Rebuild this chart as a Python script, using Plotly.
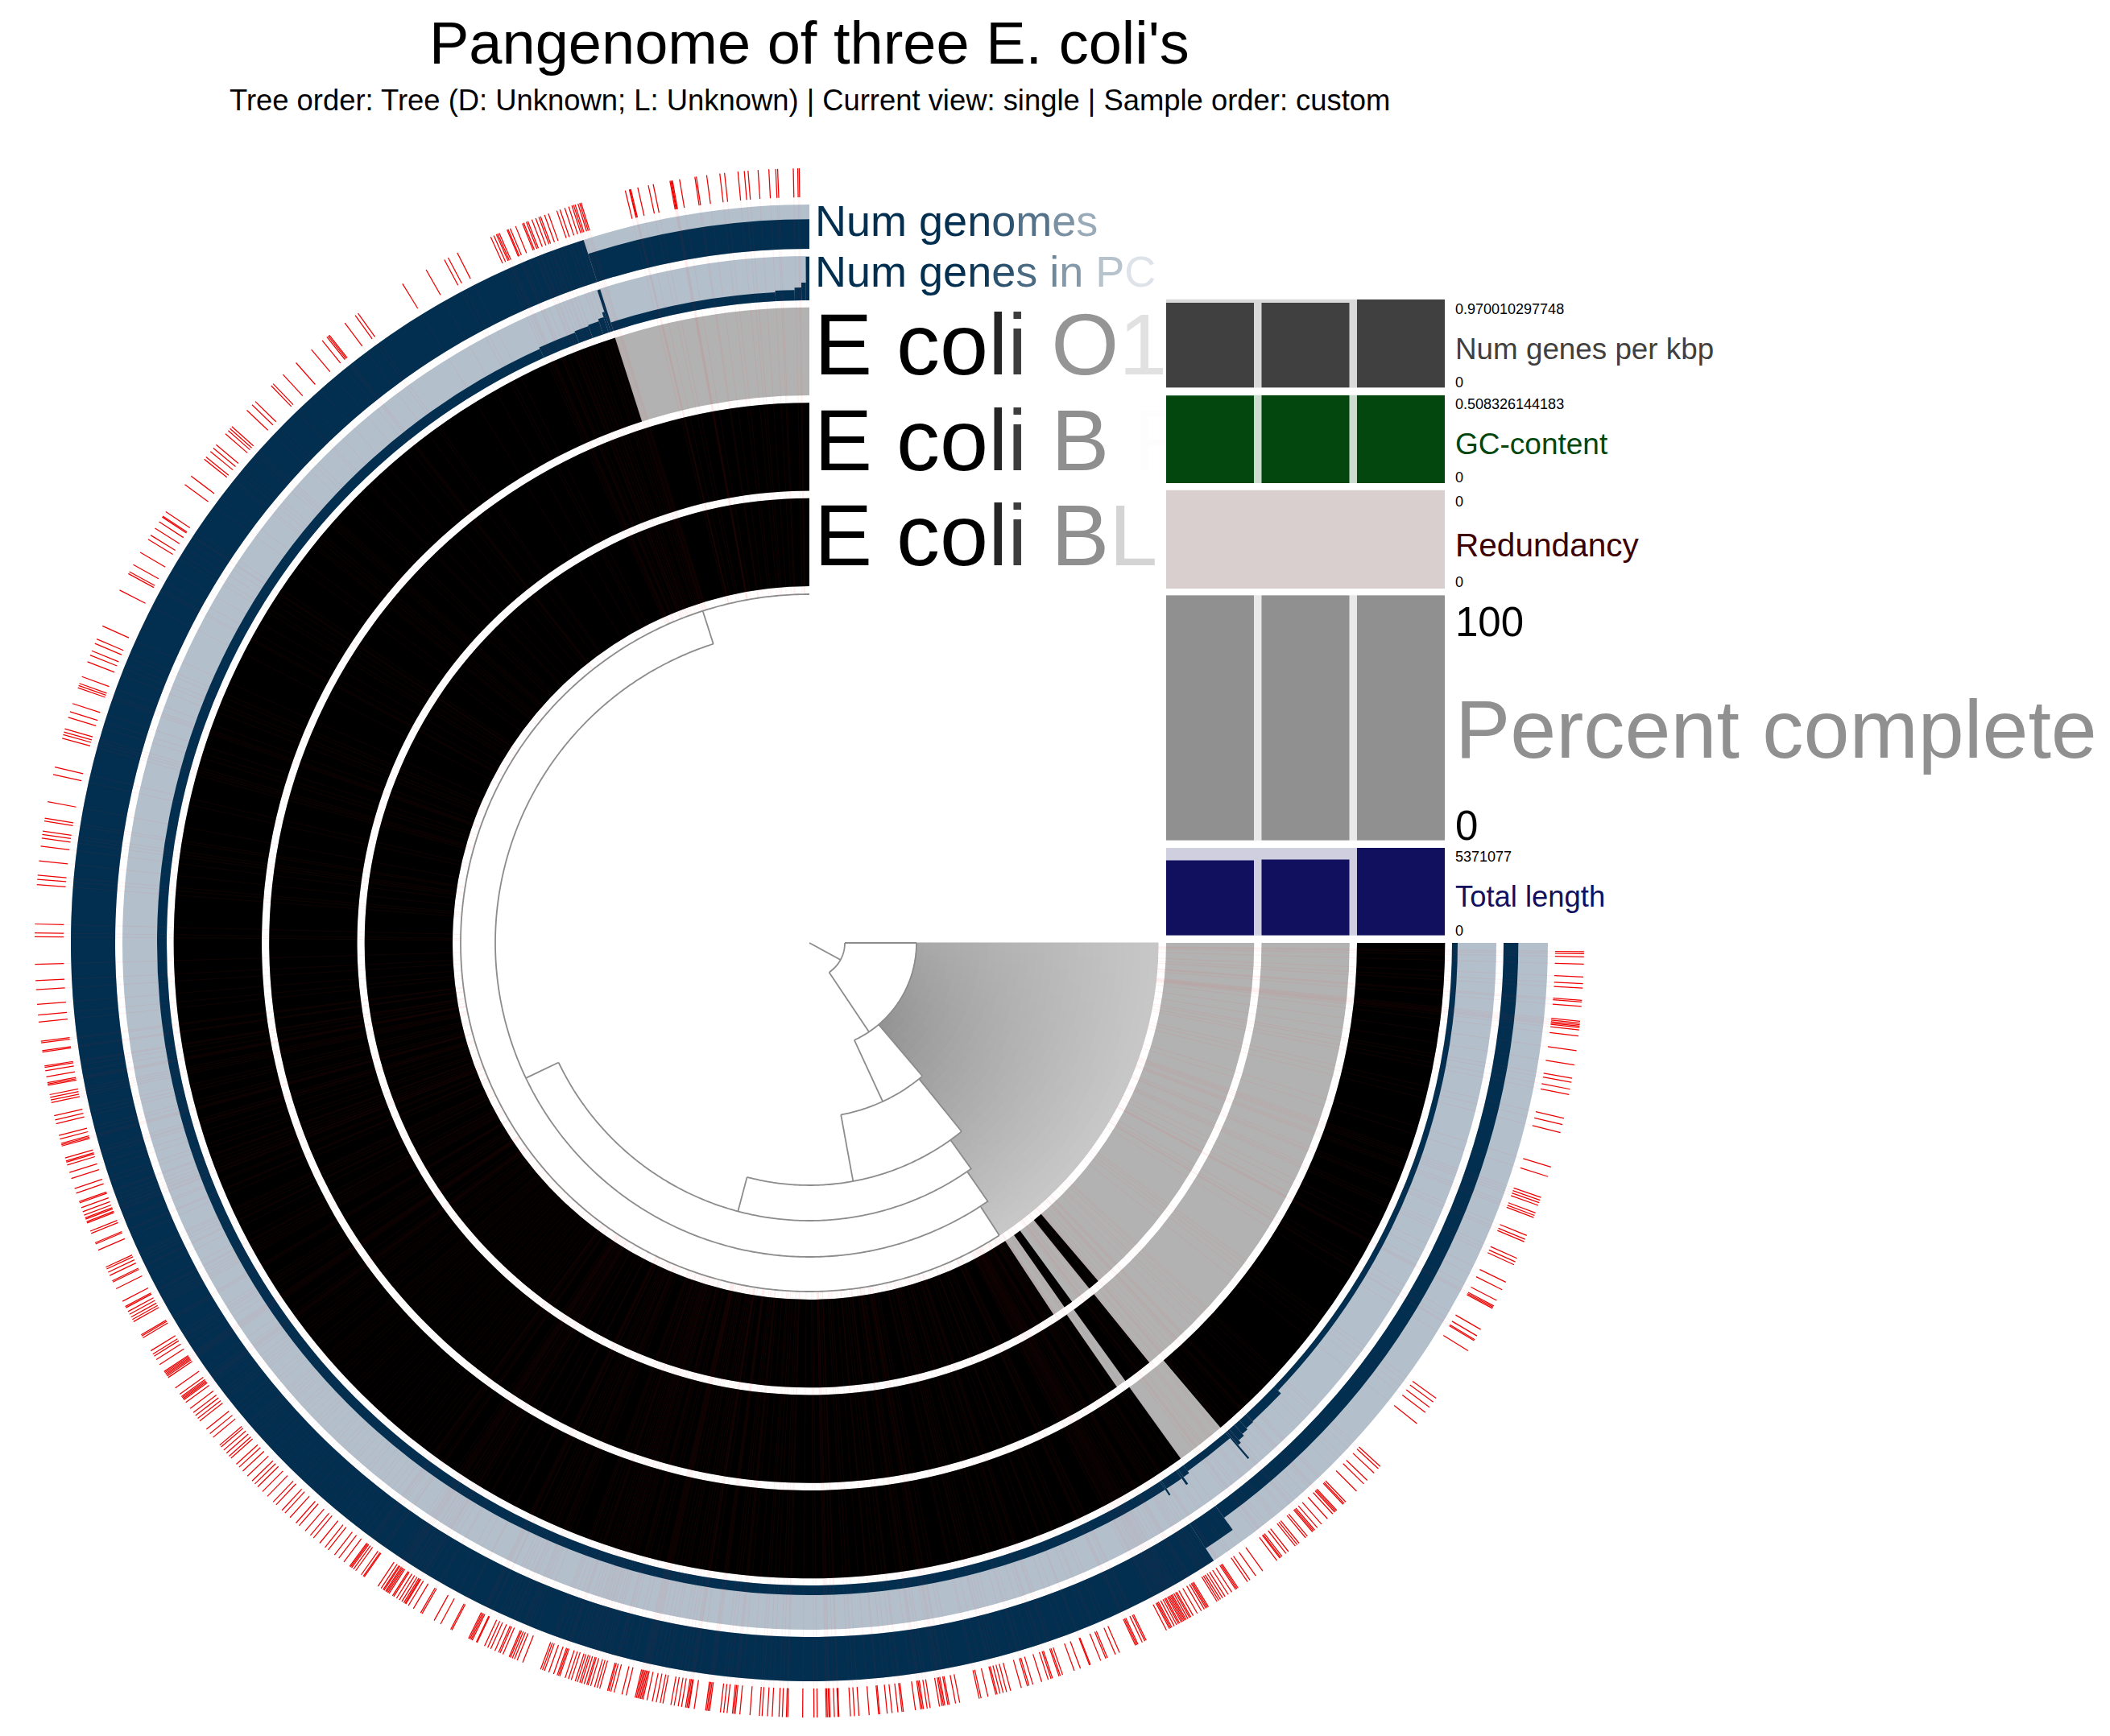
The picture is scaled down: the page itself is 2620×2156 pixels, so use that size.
import plotly.graph_objects as go

# the page puts the figure 8 px in from its corner
PAGE_W, PAGE_H = 2620, 2156
INSET = 8
W, H = PAGE_W - 2 * INSET, PAGE_H - 2 * INSET
CX, CY = 1005, 1171
R = 970


def px(x):
    return (x - INSET) / W


def py(y):
    return 1 - (y - INSET) / H


# ---------- data ----------
samples = ["E coli BL21", "E coli B REL606", "E coli O157 H7"]
ring_labels = ["Num genomes", "Num genes in PC", "E coli O157 H7", "E coli B REL606", "E coli BL21"]

# present segments per genome ring: start angle, stop angle (clockwise from east)
bl21_start = [49.5, 53.8, 56.7]
bl21_stop = [51.0, 55.0, 270.0]
rel606_start = [51.0, 55.3]
rel606_stop = [54.2, 270.0]
o157_start = [0.0, 54.25]
o157_stop = [49.7, 252.2]

# number of genomes per stretch
genomes_start = [0.0, 54.2, 56.8, 252.2]
genomes_stop = [54.2, 56.8, 252.2, 270.0]
genomes_value = [1, 2, 3, 2]

# genes in protein cluster per stretch
genes_start = [0, 43.7, 47.2, 48, 48.6, 49.2, 49.5, 49.65, 54.4, 55.0, 55.2, 56.8, 56.95, 245.6, 249, 250.3, 251.3, 251.8, 252, 252.25, 267, 268.7, 269.3, 269.7]
genes_stop = [43.7, 47.2, 48, 48.6, 49.2, 49.5, 49.65, 54.4, 55.0, 55.2, 56.8, 56.95, 245.6, 249, 250.3, 251.3, 251.8, 252, 252.25, 267, 268.7, 269.3, 269.7, 270]
genes_value = [7, 12, 13, 15, 18, 22, 43, 9, 12, 22, 12, 21, 12, 14, 15.5, 17, 20, 26, 54, 11, 13, 16, 22, 54]

# red bins: angle clockwise from east
bins_se = [.65,.8,1.03,1.57,2.52,3.02,3.35,4.25,4.37,4.71,5.81,5.95,6.07,6.17,6.27,6.46,6.91,8.0,9.07,10.07,10.37,10.89,11.29,13.09,13.57,14.18,16.82,17.56,19.19,19.4,19.6,19.81,20.4,20.6,20.77,22.19,22.5,22.69,24.03,24.32,24.55,25.98,26.6,27.49,27.95,28.05,28.15,29.94,30.49,30.81,30.9,31.77,36.01,36.36,36.83,37.33,38.35,42.53,42.75,43.2,43.94,44.3,45.06,46.19,46.35,46.45,47.1,47.2,47.3,47.5,48.03,48.62,49.03,49.29,49.4,49.5,50.0,50.17,50.8,50.97,51.15,51.8,52.03,52.4,52.52,52.6,52.88,54.18,54.81,55.34,55.56,56.4,56.5,56.6,56.96,57.27,57.55,57.76,57.95,58.1,58.25,59.0,59.1,59.2,59.35,59.6,59.95,60.3,60.5,60.6,60.75,60.9,61,61.1,61.2,61.3,61.45,61.55,61.7,61.9,62.1,62.2,62.3,62.55,64.23,64.34,64.55,64.9,65.0,65.1,66.4,66.73,67.37,67.5,67.91,68.73,68.8,69.52,70,70.92,71.1,71.2,71.71,71.82,72.04,72.55,73.23,73.53,73.65,74.12,74.94,75.25,75.51,75.75,75.97,76.07,76.67,77.19,77.33,78.81,79.12,79.6,79.7,79.93,80.03,80.13,80.33,81.03,81.25,81.53,81.63,81.73,82.13,83.03,83.13,83.43,83.87,84.23,84.79,84.87,85.57,86.33,86.66,86.96,87.81,87.88,88.15,88.47,88.55,88.67,88.75,89.42,89.66]
# degrees below west
bins_sw = [1.59,2.8,3.46,4.56,5.35,5.87,7.3,7.42,8.0,8.1,9.15,9.25,9.51,9.96,10.4,10.5,10.6,11.3,11.5,11.7,11.9,12.89,13.21,13.5,14.39,14.67,15.0,15.1,15.2,16.12,16.35,16.45,16.66,17.24,17.71,18.49,18.85,19.52,19.62,19.99,20.31,20.58,20.8,20.9,21.1,21.2,21.85,22.03,22.78,22.88,23.37,24.75,24.9,25.16,25.43,25.87,25.97,26.52,27.56,28.0,28.1,28.42,28.65,28.89,29.09,29.27,30.4,30.5,30.65,31.78,32.07,32.25,32.55,32.99,33.6,33.7,33.8,33.9,34.0,34.14,35.07,35.64,35.85,35.95,36.05,36.15,36.4,36.94,37.33,37.6,37.87,38.11,38.9,39.31,39.67,40.43,40.6,40.9,41.2,41.5,41.7,42.3,42.6,43.0,43.5,44.0,44.3,44.6,45.1,45.6,46.2,46.5,47.1,47.4,47.9,48.5,48.8,49.4,49.9,50.2,50.8,51.3,51.6,52.2,52.6,53.07,53.6,53.69,53.78,53.95,54.15,54.66,54.85,54.93,56.16,56.44,56.62,56.7,56.84,56.93,57.03,57.14,57.45,57.55,57.8,58.04,58.26,58.43,58.53,58.6,58.83,59.26,59.88,60.0,61.03,61.57,62.42,62.52,63.9,64.0,64.1,64.2,64.54,64.6,65.21,65.47,65.71,66.05,66.35,66.47,66.7,67.2,67.3,67.45,67.62,67.84,68.28,69.7,69.85,70.0,70.34,70.72,71.0,71.1,71.2,71.62,71.88,72.1,72.41,72.57,72.76,72.9,73.1,73.3,73.4,73.6,73.9,74.1,74.3,74.9,75.0,75.15,75.4,76.0,76.32,77.0,77.1,77.2,77.3,77.4,77.5,77.6,77.9,78.3,78.6,78.9,79.1,79.7,79.95,80.25,80.5,80.8,80.9,81.0,81.05,81.45,82.3,82.4,82.5,82.6,83.4,83.65,83.9,84.3,84.4,84.5,84.85,85.6,86.3,86.5,86.9,87.25,87.75,88.0,88.3,88.4,89.5]
# degrees above west
bins_nw = [.46,.73,1.4,4.31,4.71,5.01,6.08,7.17,7.77,8.04,8.3,9.05,9.27,10.5,12.56,13.12,15.32,15.6,15.8,16.04,16.93,17.37,18.0,19.23,19.4,19.57,20.11,21.28,21.81,22.15,22.74,23.1,24.15,27.09,28.47,28.63,29.23,30.27,31.4,31.76,32.37,32.93,33.35,33.43,33.83,36.28,37.06,38.64,38.85,39.37,39.7,40.03,41.09,41.4,41.6,41.8,43.44,44.0,44.34,46.0,46.2,47.2,48.5]
# degrees west of north
bins_n = [.75,.86,1.19,2.35,2.49,3.0,3.8,4.54,4.82,5.29,6.29,6.64,7.62,8.39,8.5,9.65,10.18,10.25,10.3,10.37,11.63,12.0,12.8,13.33,13.4,13.44,13.75,17.14,17.25,17.38,17.6,17.72,17.85,18.1,18.41,18.78,19.03,19.69,19.99,20.31,20.44,20.69,20.99,21.31,21.43,21.64,21.74,22.29,22.72,22.89,22.97,23.6,23.73,23.83,24.04,24.29,27.03,27.79,28.11,29.65,31.68,35.63,35.89,36.84,38.3,38.4,38.52,38.96,40.0]

# dendrogram: arcs and radial branches
arc_depth = [44, 133, 217, 301, 345, 390, 433]
arc_from = [0, 0, 49.9, 51.1, 54.4, 55.4, 57]
arc_to = [56.2, 65.2, 79.6, 104.9, 154.5, 252.2, 270]
branch_angle = [28.6, 0, 56.2, 65.2, 79.6, 104.9, 154.5, 252.2, 49.7, 51.1, 54.4, 55.4, 57]
branch_from = [0, 44, 44, 133, 217, 301, 345, 390, 133, 217, 301, 346, 391]
branch_to = [44, 133, 133, 217, 301, 345, 390, 433, 217, 301, 346, 391, 433]

# leaf fans
fan_from = [0, 49.7, 51.1, 54.4, 55.4]
fan_to = [49.7, 51.1, 54.4, 55.4, 57]
fan_depth = [133, 217, 301, 346, 391]

# sample layers
genes_per_kbp = [0.933, 0.933, 0.970010297748]
gc_content = [0.506, 0.508, 0.508326144183]
redundancy = [0, 0, 0]
percent_complete = [100, 100, 100]
total_length = [4606000, 4655000, 5371077]

# ---------- styles ----------
NAVY, PALE = "#022f50", "#b3c0cc"
GREY = "#b3b2b2"
TREE = "#8c8c8c"
FONT = "Liberation Sans"

bin_angles = bins_se + [180 - b for b in bins_sw] + [180 + b for b in bins_nw] + [270 - b for b in bins_n]


def segs(starts, stops, values, base, scale, color):
    return go.Barpolar(
        theta=[(a + b) / 2 for a, b in zip(starts, stops)],
        width=[b - a for a, b in zip(starts, stops)],
        r=[v * scale for v in values],
        base=[base] * len(starts),
        marker=dict(color=color, line=dict(width=0)),
        hoverinfo="skip", showlegend=False,
    )


fig = go.Figure()

# fan with shaded cells
th, wd, rr, bs, cc = [], [], [], [], []
for a0, a1, d in zip(fan_from, fan_to, fan_depth):
    a = a0
    while a < a1 - 1e-6:
        b = min(a + 3, a1)
        r0 = d
        while r0 < 433:
            r1 = min(r0 + 10, 433)
            g = 200 - (433 - (r0 + r1) / 2) / 298 * (32 + 22 * ((a + b) / 2) / 50)
            g = int(round(g))
            th.append((a + b) / 2); wd.append(b - a); rr.append(r1 - r0); bs.append(r0)
            cc.append(f"rgb({g},{g},{g})")
            r0 = r1
        a = b
fig.add_trace(go.Barpolar(theta=th, width=wd, r=rr, base=bs,
                          marker=dict(color=cc, line=dict(color=cc, width=1)),
                          hoverinfo="skip", showlegend=False))

# genome rings
for inner, (st, sp) in zip((443, 561.5, 680), ((bl21_start, bl21_stop), (rel606_start, rel606_stop), (o157_start, o157_stop))):
    fig.add_trace(segs([0], [270], [1], inner, 109.3, GREY))
    fig.add_trace(segs(st, sp, [1] * len(st), inner, 109.3, "#000000"))

# genes in PC ring
fig.add_trace(segs([0], [270], [1], 798, 55, PALE))
fig.add_trace(segs(genes_start, genes_stop, genes_value, 798, 1, NAVY))

# genomes ring
fig.add_trace(segs([0], [270], [1], 862, 55, PALE))
fig.add_trace(segs(genomes_start, genomes_stop, genomes_value, 862, 55 / 3, NAVY))

# translucent bin lines through rings
pr, pt, tr, tt = [], [], [], []
for a in bin_angles:
    pr += [433, 926, None]; pt += [a, a, None]
    tr += [926, 962, None]; tt += [a, a, None]
fig.add_trace(go.Scatterpolar(r=pr, theta=pt, mode="lines", line=dict(color="rgba(255,40,40,0.07)", width=1),
                              hoverinfo="skip", showlegend=False))
fig.add_trace(go.Scatterpolar(r=tr, theta=tt, mode="lines", line=dict(color="#ee0000", width=1.25),
                              hoverinfo="skip", showlegend=False))

# tree
tr_r, tr_t = [], []
for d, a0, a1 in zip(arc_depth, arc_from, arc_to):
    n = max(int((a1 - a0) * 2), 2)
    tr_r += [d] * (n + 1) + [None]
    tr_t += [a0 + (a1 - a0) * i / n for i in range(n + 1)] + [None]
for a, r0, r1 in zip(branch_angle, branch_from, branch_to):
    tr_r += [r0, r1, None]; tr_t += [a, a, None]
fig.add_trace(go.Scatterpolar(r=tr_r, theta=tr_t, mode="lines", line=dict(color=TREE, width=1.8),
                              hoverinfo="skip", showlegend=False))

# sample layers as bars
layers = [
    (genes_per_kbp, 371.8, 481.5, 0.970010297748, "#404040", "#d9d9d9"),
    (gc_content, 490.8, 600, 0.508326144183, "#03470e", "#ccdccf"),
    (redundancy, 608.8, 731, 1, "#3d0000", "#d9cfcf"),
    (percent_complete, 739.3, 1043.8, 100, "#909090", "#e9e9e9"),
    (total_length, 1053, 1161.7, 5371077, "#10105f", "#cfcfe0"),
]
layout_axes, shapes = {}, []
for i, (vals, top, bot, mx, dark, light) in enumerate(layers, start=1):
    sfx = "" if i == 1 else str(i)
    fig.add_trace(go.Bar(x=samples, y=vals, width=0.92, marker=dict(color=dark, line=dict(width=0)),
                         xaxis=f"x{sfx}", yaxis=f"y{sfx}", hoverinfo="skip", showlegend=False))
    layout_axes[f"xaxis{sfx}"] = dict(domain=[px(1448), px(1794)], range=[-0.46, 2.46], type="category",
                                      categoryorder="array", categoryarray=samples, visible=False,
                                      anchor=f"y{sfx}")
    layout_axes[f"yaxis{sfx}"] = dict(domain=[py(bot), py(top)], range=[0, mx], visible=False,
                                      anchor=f"x{sfx}")
    shapes.append(dict(type="rect", xref=f"x{sfx} domain", yref=f"y{sfx} domain", x0=0, x1=1, y0=0, y1=1,
                       fillcolor=light, line=dict(width=0), layer="below"))

# ring labels fading out (clipped by axis area)
WID = {" ": .278, "E": .667, "c": .5, "o": .556, "l": .222, "i": .222, "O": .778, "1": .556, "5": .556, "7": .556,
       "H": .722, "B": .667, "R": .722, "L": .556, "0": .556, "6": .556, "2": .556, "N": .722, "u": .556,
       "m": .833, "g": .556, "e": .556, "n": .556, "s": .5, "P": .667, "C": .722}


def fade(text, size, x0, rgb):
    out, x = "", x0
    for ch in text:
        w = WID.get(ch, .556) * size
        a = min(1, max(0, (x + w / 2 - 1205) / 243))
        col = [int(round(c + (255 - c) * a)) for c in rgb]
        out += f'<span style="color:rgb({col[0]},{col[1]},{col[2]})">{ch}</span>'
        x += w
    return out


label_x = [1012, 1012, 1011, 1011, 1011]
label_y = [279, 342, 438, 557, 675]
label_size = [54, 54, 108, 108, 108]
label_rgb = [(2, 47, 80), (2, 47, 80), (0, 0, 0), (0, 0, 0), (0, 0, 0)]
for name, x, y, s, c in zip(ring_labels, label_x, label_y, label_size, label_rgb):
    fig.add_trace(go.Scatter(x=[x], y=[y], mode="text", text=[fade(name, s, x, c)],
                             textposition="middle right", textfont=dict(family=FONT, size=s),
                             xaxis="x6", yaxis="y6", hoverinfo="skip", showlegend=False, cliponaxis=True))
layout_axes["xaxis6"] = dict(domain=[px(1005), px(1448)], range=[1005, 1448], visible=False, anchor="y6")
layout_axes["yaxis6"] = dict(domain=[py(750), py(230)], range=[750, 230], visible=False, anchor="x6")

# layer captions
cap_text = ["0.970010297748", "Num genes per kbp", "0", "0.508326144183", "GC-content", "0", "0", "Redundancy", "0",
            "100", "Percent complete", "0", "5371077", "Total length", "0"]
cap_y = [384, 434, 475, 502, 552, 593, 622.5, 676.5, 723, 773, 905, 1025.7, 1064, 1113, 1155.7]
cap_size = [18, 36.8, 18, 18, 37, 18, 18, 40.6, 18, 51, 102.4, 51, 18, 36.4, 18]
cap_color = ["#000000", "#404040", "#000000", "#000000", "#03470e", "#000000", "#000000", "#3d0000", "#000000",
             "#000000", "#909090", "#000000", "#000000", "#10105f", "#000000"]
ann = [dict(x=px(1806), y=py(y), xref="paper", yref="paper", xanchor="left", yanchor="middle", text=t,
            showarrow=False, borderpad=0, font=dict(family=FONT, size=s, color=c))
       for t, y, s, c in zip(cap_text, cap_y, cap_size, cap_color)]
ann.append(dict(x=px(CX), y=py(53), xref="paper", yref="paper", xanchor="center", yanchor="middle",
                text="Pangenome of three E. coli's", showarrow=False,
                font=dict(family=FONT, size=74, color="#000000")))
ann.append(dict(x=px(CX), y=py(125), xref="paper", yref="paper", xanchor="center", yanchor="middle",
                text="Tree order: Tree (D: Unknown; L: Unknown) | Current view: single | Sample order: custom",
                showarrow=False, font=dict(family=FONT, size=36.4, color="#000000")))

fig.update_layout(
    width=W, height=H, autosize=False, margin=dict(l=0, r=0, t=0, b=0),
    paper_bgcolor="white", plot_bgcolor="rgba(0,0,0,0)", showlegend=False, barmode="overlay",
    polar=dict(domain=dict(x=[px(CX - R), px(CX + R)], y=[py(CY + R), py(CY - R)]),
               bgcolor="rgba(0,0,0,0)", barmode="overlay",
               radialaxis=dict(range=[0, R], visible=False),
               angularaxis=dict(rotation=0, direction="clockwise", visible=False)),
    shapes=shapes, annotations=ann, **layout_axes,
)
fig.write_html("out.html")
